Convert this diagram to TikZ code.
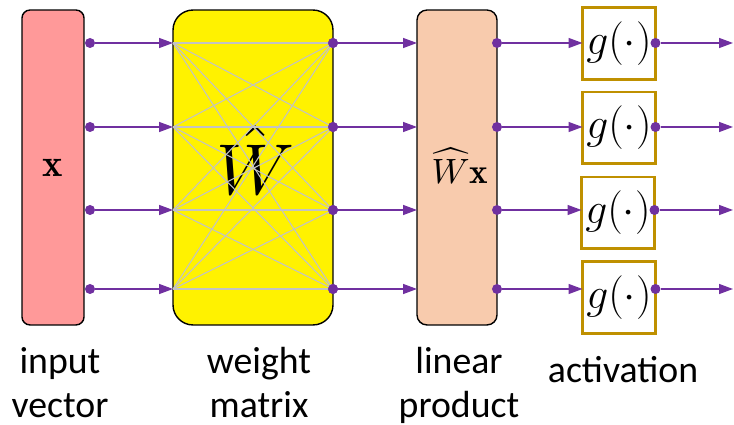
\documentclass[tikz,border=0pt]{standalone}
\usepackage{fontspec}
\usepackage{amsmath}
\usetikzlibrary{arrows.meta,positioning,calc}
\newfontfamily\labelfont{Carlito}
\definecolor{wirepurple}{RGB}{112,48,160}
\definecolor{inpink}{RGB}{255,153,153}
\definecolor{prodpeach}{RGB}{248,203,173}
\definecolor{gboxgold}{RGB}{191,144,0}
\definecolor{crossgray}{RGB}{195,195,195}

\begin{document}
\begin{tikzpicture}[x=0.02cm, y=-0.02cm,
  block/.style={draw, line width=0.8pt, inner sep=0pt, outer sep=0pt, minimum height=6.3cm},
  gbox/.style={draw=gboxgold, line width=1.7pt, fill=white, minimum width=1.46cm, minimum height=1.44cm, inner sep=0pt, outer sep=0pt},
  dot/.style={circle, fill=wirepurple, inner sep=0pt, minimum size=0.2cm},
  arrow/.style={wirepurple, line width=0.8pt, -{Triangle[length=0.28cm, width=0.2cm]}},
  cross/.style={crossgray, line width=0.6pt},
  caption/.style={align=center, anchor=base, font=\labelfont\fontsize{21.5}{25.6}\selectfont}
]
  \useasboundingbox (0,0) rectangle (734,425);

  % Blocks
  \node[block, fill=inpink, rounded corners=0.16cm, minimum width=1.24cm] (X) at (53,167.5) {};
  \node[block, fill=yellow, rounded corners=0.4cm, minimum width=3.2cm] (W) at (253,167.5) {};
  \node[block, fill=prodpeach, rounded corners=0.2cm, minimum width=1.6cm] (WX) at (457,167.5) {};
  \node (Xlabel) at (X) {\fontsize{22}{22}\selectfont$\mathbf{x}$};
  \node (Wlabel) at (256,160) {\scalebox{4.1}{$\hat{W}$}};
  \node (WXlabel) at (460,166) {\scalebox{2.0}{$\widehat{W}\mathbf{x}$}};

  % Activation boxes
  \node[gbox] (G1) at (619,43.5) {\fontsize{23}{23}\selectfont$g(\cdot)$};
  \node[gbox] (G2) at (619,128) {\fontsize{23}{23}\selectfont$g(\cdot)$};
  \node[gbox] (G3) at (618,213) {\fontsize{23}{23}\selectfont$g(\cdot)$};
  \node[gbox] (G4) at (619,297.5) {\fontsize{23}{23}\selectfont$g(\cdot)$};

  % Rows of wires
  \foreach \i/\y in {1/43,2/127,3/210,4/289} {
    \node[dot] (xd\i) at (90,\y) {};
    \coordinate (win\i) at (W.west |- xd\i);
    \node[dot] (wd\i) at (W.east |- xd\i) {};
    \coordinate (pin\i) at (WX.west |- xd\i);
    \node[dot] (pd\i) at (WX.east |- xd\i) {};
    \coordinate (gin\i) at (G\i.west |- xd\i);
    \node[dot] (gd\i) at (G\i.east |- xd\i) {};
    \coordinate (out\i) at (733,\y);
    \draw[arrow] (xd\i) -- (win\i);
    \draw[arrow] (wd\i) -- (pin\i);
    \draw[arrow] (pd\i) -- (gin\i);
    \draw[arrow] (gd\i) -- (out\i);
  }

  % Full connections inside the weight matrix
  \foreach \i in {1,...,4}
    \foreach \j in {1,...,4}
      \draw[cross] (win\i) -- (wd\j.center);
  \foreach \i in {1,...,4}
    \node[dot] at (wd\i) {};

  % Captions (anchored at the baseline of the last line)
  \node[caption] (capX) at (60,418) {input\\vector};
  \node[caption] (capW) at (259,418) {weight\\matrix};
  \node[caption] (capWX) at (459,418) {linear\\product};
  \node[caption] (capG) at (623,383) {activation};
\end{tikzpicture}
\end{document}
